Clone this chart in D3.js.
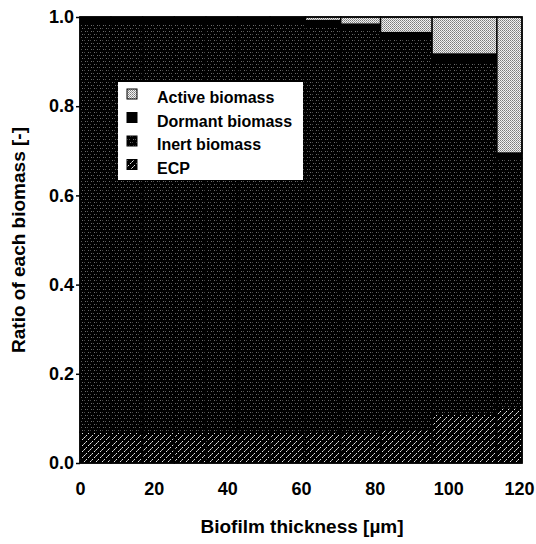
<!DOCTYPE html>
<html>
<head>
<meta charset="utf-8">
<script src="https://cdn.jsdelivr.net/npm/d3@7"></script>
<style>
  html, body { margin: 0; padding: 0; background: #fff; }
  svg { display: block; font-family: "Liberation Sans", Arial, Helvetica, sans-serif; font-weight: bold; }
</style>
</head>
<body>
<svg id="chart" width="536" height="544"></svg>
<script>
// Biofilm layers (thickness range, µm)
const layerStart = [0, 8.4, 17.0, 25.6, 34.2, 42.8, 51.6, 61.2, 70.8, 81.6, 95.6, 113.2];
const layerEnd   = [8.4, 17.0, 25.6, 34.2, 42.8, 51.6, 61.2, 70.8, 81.6, 95.6, 113.2, 120];

// Fraction of each biomass type per layer
const ecp     = [0.069, 0.069, 0.069, 0.069, 0.069, 0.069, 0.069, 0.070, 0.070, 0.075, 0.110, 0.124];
const inert   = [0.919, 0.919, 0.919, 0.919, 0.919, 0.919, 0.919, 0.910, 0.902, 0.876, 0.791, 0.559];
const dormant = [0.012, 0.012, 0.012, 0.012, 0.012, 0.012, 0.012, 0.012, 0.012, 0.014, 0.016, 0.012];
const active  = [0.000, 0.000, 0.000, 0.000, 0.000, 0.000, 0.000, 0.008, 0.016, 0.035, 0.083, 0.305];

const seriesKeys   = ["ecp", "inert", "dormant", "active"];
const legendLabels = ["Active biomass", "Dormant biomass", "Inert biomass", "ECP"];
const legendKeys   = ["active", "dormant", "inert", "ecp"];

const xTicks = [0, 20, 40, 60, 80, 100, 120];
const yTicks = [0, 0.2, 0.4, 0.6, 0.8, 1.0];

const rows = layerStart.map((s, i) => ({
  start: s, end: layerEnd[i],
  ecp: ecp[i], inert: inert[i], dormant: dormant[i], active: active[i]
}));

const svg = d3.select("#chart");
const x = d3.scaleLinear().domain([0, 120]).range([80, 522]);
const y = d3.scaleLinear().domain([0, 1]).range([463, 17]);

// Fill patterns
const defs = svg.append("defs");

const pA = defs.append("pattern").attr("id", "pat-active")
  .attr("patternUnits", "userSpaceOnUse").attr("width", 2).attr("height", 2);
pA.append("rect").attr("width", 2).attr("height", 2).attr("fill", "#f2f2f2");
pA.append("rect").attr("x", 0).attr("y", 0).attr("width", 1).attr("height", 1).attr("fill", "#7a7a7a");
pA.append("rect").attr("x", 1).attr("y", 1).attr("width", 1).attr("height", 1).attr("fill", "#9a9a9a");

const pI = defs.append("pattern").attr("id", "pat-inert")
  .attr("patternUnits", "userSpaceOnUse").attr("width", 6).attr("height", 6);
pI.append("rect").attr("width", 6).attr("height", 6).attr("fill", "#000");
pI.append("rect").attr("x", 1).attr("y", 1).attr("width", 1).attr("height", 1).attr("fill", "#6e6e6e");
pI.append("rect").attr("x", 3).attr("y", 1).attr("width", 1).attr("height", 1).attr("fill", "#555");
pI.append("rect").attr("x", 4).attr("y", 4).attr("width", 1).attr("height", 1).attr("fill", "#6e6e6e");
pI.append("rect").attr("x", 0).attr("y", 4).attr("width", 1).attr("height", 1).attr("fill", "#444");

// ECP: dashed white diagonal hatch on black
const pE = defs.append("pattern").attr("id", "pat-ecp")
  .attr("patternUnits", "userSpaceOnUse").attr("width", 6).attr("height", 6);
pE.append("rect").attr("width", 6).attr("height", 6).attr("fill", "#000");
[[0, 5, "#e6e6e6"], [1, 4, "#9a9a9a"], [2, 3, "#e6e6e6"], [4, 1, "#e6e6e6"], [5, 0, "#9a9a9a"]]
  .forEach(([px, py, c]) => pE.append("rect").attr("x", px).attr("y", py)
    .attr("width", 1).attr("height", 1).attr("fill", c));

const fills = { ecp: "url(#pat-ecp)", inert: "url(#pat-inert)", dormant: "#000", active: "url(#pat-active)" };

// Stacked columns
const stacked = d3.stack().keys(seriesKeys)(rows);
svg.append("g").selectAll("g").data(stacked).join("g")
  .attr("fill", d => fills[d.key])
  .selectAll("rect").data(d => d).join("rect")
  .attr("x", d => x(d.data.start))
  .attr("width", d => x(d.data.end) - x(d.data.start))
  .attr("y", d => y(d[1]))
  .attr("height", d => Math.max(0, y(d[0]) - y(d[1])))
  .attr("stroke", "#000")
  .attr("stroke-width", 1.4);

// Plot frame
svg.append("rect")
  .attr("x", x(0)).attr("y", y(1))
  .attr("width", x(120) - x(0)).attr("height", y(0) - y(1))
  .attr("fill", "none").attr("stroke", "#000").attr("stroke-width", 1.5);

// Axes
const yAxis = svg.append("g").attr("transform", `translate(${x(0)},0)`)
  .call(d3.axisLeft(y).tickValues(yTicks).tickFormat(d3.format(".1f")).tickSizeInner(4).tickSizeOuter(0).tickPadding(2));
yAxis.select(".domain").remove();
yAxis.selectAll("text").attr("font-size", 18).attr("font-weight", "bold").attr("fill", "#000")
  .attr("font-family", "'Liberation Sans', Arial, sans-serif");
yAxis.selectAll("line").attr("stroke-width", 1.5);

const xAxis = svg.append("g").attr("transform", `translate(0,${y(0)})`)
  .call(d3.axisBottom(x).tickValues(xTicks).tickFormat(d3.format("d")).tickSizeInner(0).tickSizeOuter(0).tickPadding(19));
xAxis.select(".domain").remove();
xAxis.selectAll("text").attr("font-size", 18).attr("font-weight", "bold").attr("fill", "#000")
  .attr("font-family", "'Liberation Sans', Arial, sans-serif")
  .attr("dx", d => d === 120 ? -3 : 0);

// Axis titles
svg.append("text")
  .attr("x", 302).attr("y", 533)
  .attr("text-anchor", "middle").attr("font-size", 19)
  .text("Biofilm thickness [µm]");

svg.append("text")
  .attr("transform", `translate(25,${(y(0) + y(1)) / 2}) rotate(-90)`)
  .attr("text-anchor", "middle").attr("font-size", 19)
  .text("Ratio of each biomass [-]");

// Legend
const legend = svg.append("g");
legend.append("rect")
  .attr("x", 118).attr("y", 82).attr("width", 185).attr("height", 98)
  .attr("fill", "#fff");
legendKeys.forEach((k, i) => {
  const cy = 94 + i * 23.5;
  legend.append("rect")
    .attr("x", 127).attr("y", cy - 5).attr("width", 10).attr("height", 10)
    .attr("fill", fills[k]).attr("stroke", "#000").attr("stroke-width", 1);
  legend.append("text")
    .attr("x", 157).attr("y", cy + 9)
    .attr("font-size", 16)
    .text(legendLabels[i]);
});
</script>
</body>
</html>
